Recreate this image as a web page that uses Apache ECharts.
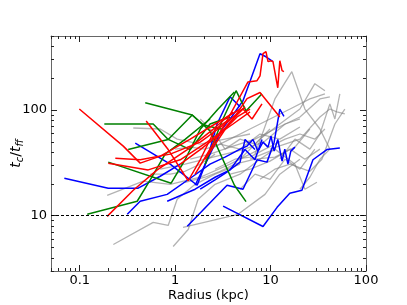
<!DOCTYPE html>
<html>
<head>
<meta charset="utf-8">
<script src="https://cdn.jsdelivr.net/npm/echarts@6/dist/echarts.min.js"></script>
<style>html,body{margin:0;padding:0;background:#fff}#c{width:407px;height:305px}</style>
</head>
<body>
<div id="c"></div>
<script>
// ---- tick labels / tick positions ----
const xMajorTicks = [0.1, 1, 10, 100];
const xMinorTicks = [0.05,0.06,0.07,0.08,0.09,0.2,0.3,0.4,0.5,0.6,0.7,0.8,0.9,2,3,4,5,6,7,8,9,20,30,40,50,60,70,80,90];
const yMajorTicks = [10, 100];
const yMinorTicks = [3,4,5,6,7,8,9,20,30,40,50,60,70,80,90,200,300,400,500];
const thresholdValue = 10;

// ---- data: [radius (kpc), tc/tff] ----
const grayLines = [
  [[0.225,5.34],[0.589,8.64],[0.845,8.09],[1.05,14.3],[1.62,19.8],[2.62,24.7],[4.79,30.7]],
  [[0.953,5.11],[1.37,7.41],[1.74,14.3],[2.62,19.8],[4.79,24.7],[7.75,34.2],[11.1,42.6]],
  [[0.194,15.6],[0.463,21.2],[0.887,19.8],[1.83,23.1],[3.76,30.7],[7.75,42.6]],
  [[0.364,67.5],[0.697,66.0],[1.05,53.0],[1.83,47.5],[3.33,53.0],[6.09,59.2]],
  [[1.21,7.74],[4.56,10.3],[8.74,15.9],[12.5,24.7],[20.3,34.2]],
  [[6.87,38.2],[11.1,127],[16.7,230],[22.9,102],[32.9,66],[41.8,42.6]],
  [[4.79,34.2],[7.75,53],[12.5,73.6],[20.3,102],[29.1,177],[37.1,152]],
  [[9.86,42.6],[20.3,53],[32.9,85.8],[41.8,102],[49.5,95.7],[60,91.6]],
  [[6.09,34.2],[11.1,42.6],[18,30.7],[22.9,17.8],[30.6,20.7]],
  [[2.32,42.6],[3.76,53],[6.09,66],[9.86,82.1],[16,102],[25.8,127],[37.1,142]],
  [[1.44,34.2],[2.32,38.2],[3.76,44.5],[6.87,53],[11.1,66],[20.3,85.8],[32.9,127],[41.8,133]],
  [[0.697,27.5],[1.27,30.7],[2.06,34.2],[3.33,38.2],[5.4,42.6],[8.74,50.8],[14.2,73.6],[20.3,82.1]],
  [[2.62,27.5],[4.24,34.2],[6.09,35.8],[8.74,42.6],[14.2,53],[20.3,59.2],[29.1,53],[37.1,66]],
  [[3.76,24.7],[6.09,27.5],[9.86,32.8],[16,42.6],[22.9,34.2],[32.9,42.6]],
  [[7.75,22.1],[11.1,27.5],[16,30.7],[25.8,26.3],[34.5,34.2],[47.2,73.6],[60,102]],
  [[4.79,17.8],[6.87,24.7],[9.86,22.1],[14.2,34.2],[20.3,27.5],[29.1,42.6]],
  [[1.83,82.1],[2.62,59.2],[3.33,42.6],[4.79,53],[6.87,47.5],[9.86,66]],
  [[1,42.6],[1.44,44.5],[2.06,42.6],[2.96,47.5],[4.79,42.6],[7.75,59.2],[12.5,53],[20.3,68.9]],
  [[12.5,34.2],[18,53],[25.8,42.6],[32.9,59.2],[41.8,114],[47.2,82.1],[53.2,142]],
  [[0.548,24.7],[0.887,24.7],[1.27,26.3],[1.83,30.7],[2.62,38.2]],
  [[1.27,20.7],[2.06,23.1],[2.96,26.3],[4.24,30.7],[6.87,34.2],[11.1,35.8],[18,44.5],[25.8,66]],
  [[20.3,17.8],[25.8,23.1],[32.9,34.2],[41.8,42.6]]
];
const blueLines = [
  [[0.069,22.6],[0.199,18.2],[0.41,18.2],[0.697,23.6],[1.13,30.7]],
  [[1.62,19.4],[2.32,38.2],[3.10,65.6],[3.95,87.1],[5.14,122],[7.75,340],[8.95,318],[10.6,286]],
  [[0.315,10.3],[0.43,13.7],[0.825,15.9],[1.54,23.6],[2.32,30.7],[3.33,35.8],[4.79,42.6],[5.67,45.5],[6.54,52.6],[7.38,40.8],[8.33,49.6],[9.40,44.5],[10.1,56.6],[10.9,40.8],[11.9,52.6],[13.2,32.8],[14.1,42.6],[15.2,30.7],[16.3,40.8],[18.0,44.5]],
  [[0.382,48.5],[0.887,30.7],[1.70,19.4],[2.16,33.8],[2.75,73.6],[3.76,133],[4.79,107]],
  [[1.34,7.96],[3.50,19.4],[5.14,17.8],[7.21,33.8],[9.17,32.1],[10.9,49.6],[12.5,102],[13.8,87.1]],
  [[1.83,17.8],[2.62,21.8],[3.59,26.3],[4.79,32.1],[5.40,52.6],[6.86,42.2]],
  [[3.18,12.3],[8.33,7.91],[11.7,12.0],[15.9,16.3],[21.3,17.4],[27.8,33.8],[38.9,42.2],[53.2,43.6]],
  [[0.825,13.7],[1.62,17.8],[2.62,23.1],[3.76,27.1],[5.40,42.2],[6.86,33.8],[8.13,52.6]]
];
const greenLines = [
  [[0.486,117],[1.51,89.6],[2.32,63.4],[4.18,19.4],[5.53,13.6]],
  [[0.181,73.6],[0.589,73.6],[0.845,52.6],[1.44,42.2],[2.32,73.6],[3.76,85.8]],
  [[0.322,42.2],[0.845,52.6],[1.51,89.6],[1.96,72.0],[3.10,65.6]],
  [[2.06,30.7],[3.10,78.6],[4.35,152],[5.53,97.8],[8.13,142]],
  [[0.120,10.3],[0.400,13.7],[0.548,21.8],[0.786,38.2],[1.27,52.6],[2.32,82.1]],
  [[0.199,32.1],[0.908,20.3],[1.27,33.8],[1.83,65.6],[2.82,102],[4.18,148]]
];
const redLines = [
  [[0.099,102],[0.286,45.5],[0.43,31.4],[0.70,36.6],[1.44,53],[2.62,73.6],[4.79,102]],
  [[0.236,35.0],[0.43,33.8],[0.887,38.2],[1.83,49.6],[3.33,73.6],[5.40,107]],
  [[0.199,31.4],[0.522,27.1],[1.13,33.8],[2.16,49.6],[4.04,73.6],[6.09,95.7]],
  [[0.194,9.85],[0.364,17.4],[0.649,27.1],[1.34,42.2],[2.50,65.6],[4.04,95.7]],
  [[0.497,78.6],[0.845,42.2],[1.37,21.4],[1.83,33.8],[2.62,65.6],[3.76,82.1]],
  [[1.62,24.7],[3.33,73.6],[5.80,184],[7.21,189],[7.75,210],[8.33,340],[8.95,356],[9.40,286],[10.1,292],[10.6,286],[11.9,162],[12.5,292],[13.2,235],[13.8,230]],
  [[2.62,52.6],[4.04,82.1],[5.67,128],[7.75,146],[12.5,85.9]],
  [[2.06,34.2],[3.76,76.9],[5.14,102],[6.39,82.1],[8.13,114]],
  [[1.13,30.7],[1.83,42.2],[2.96,59.2],[4.45,86.0],[6.09,102]]
];

const FONT = 'DejaVu Sans';
const frameColor = '#666';
const tickColor = '#222';

function fmt(v){ return String(Number(v.toPrecision(6))); }

function xAx(pos, major){
  return {
    type:'log', logBase:10, min:0.05, max:100, position:pos,
    axisLine:{show:major, onZero:false, lineStyle:{color:frameColor,width:1}},
    axisTick:{show:true, inside:true, length: major?6:3, customValues: major?xMajorTicks:xMinorTicks, lineStyle:{color:tickColor,width:1}},
    minorTick:{show:false},
    axisLabel:{show: major && pos==='bottom', customValues:xMajorTicks, formatter:fmt, margin:3, fontSize:13, color:'#000', fontFamily:FONT},
    splitLine:{show:false},
    name: (major && pos==='bottom') ? 'Radius (kpc)' : '',
    nameLocation:'middle', nameGap:18, nameMoveOverlap:false,
    nameTextStyle:{fontSize:13, color:'#000', fontFamily:FONT}
  };
}
function yAx(pos, major){
  const main = major && pos==='left';
  return {
    type:'log', logBase:10, min:3, max:500, position:pos,
    axisLine:{show:major, onZero:false, lineStyle:{color:frameColor,width:1}},
    axisTick:{show:true, inside:true, length: major?6:3, customValues: major?yMajorTicks:yMinorTicks, lineStyle:{color:tickColor,width:1}},
    minorTick:{show:false},
    axisLabel:{show: main, customValues:yMajorTicks, formatter:fmt, margin:4, fontSize:13, color:'#000', fontFamily:FONT},
    splitLine:{show:false},
    name: main ? '{i|t}{s|c}{n|/}{i|t}{s|ff}' : '',
    nameLocation:'middle', nameGap:26, nameRotate:90, nameMoveOverlap:false,
    nameTextStyle:{
      fontFamily:FONT, color:'#000',
      rich:{
        i:{fontSize:14, fontStyle:'italic', fontFamily:FONT, lineHeight:18, verticalAlign:'middle'},
        n:{fontSize:14, fontFamily:FONT, lineHeight:18, verticalAlign:'middle'},
        s:{fontSize:10, fontStyle:'italic', fontFamily:FONT, lineHeight:10, verticalAlign:'bottom'}
      }
    }
  };
}

const series = [];
function addLines(lines, color, width){
  lines.forEach(function(pts){
    series.push({type:'line', data:pts, symbol:'none', showSymbol:false, silent:true,
      lineStyle:{color:color, width:width}, xAxisIndex:0, yAxisIndex:0});
  });
}
addLines(grayLines, 'rgba(128,128,128,0.6)', 1.3);
addLines(blueLines, '#0000ff', 1.5);
addLines(greenLines, '#008000', 1.5);
addLines(redLines, '#ff0000', 1.5);
series.push({type:'line', data:[], symbol:'none', silent:true, xAxisIndex:0, yAxisIndex:0,
  markLine:{silent:true, symbol:['none','none'], label:{show:false},
    lineStyle:{color:'#000', type:[3,2], width:1},
    data:[{yAxis:thresholdValue}]}});

const chart = echarts.init(document.getElementById('c'), null, {renderer:'canvas'});
chart.setOption({
  animation:false,
  grid:{left:51, right:41, top:36, bottom:34, containLabel:false, outerBoundsMode:'none'},
  xAxis:[xAx('bottom',true), xAx('bottom',false), xAx('top',true), xAx('top',false)],
  yAxis:[yAx('left',true), yAx('left',false), yAx('right',true), yAx('right',false)],
  series:series
});
</script>
</body>
</html>
